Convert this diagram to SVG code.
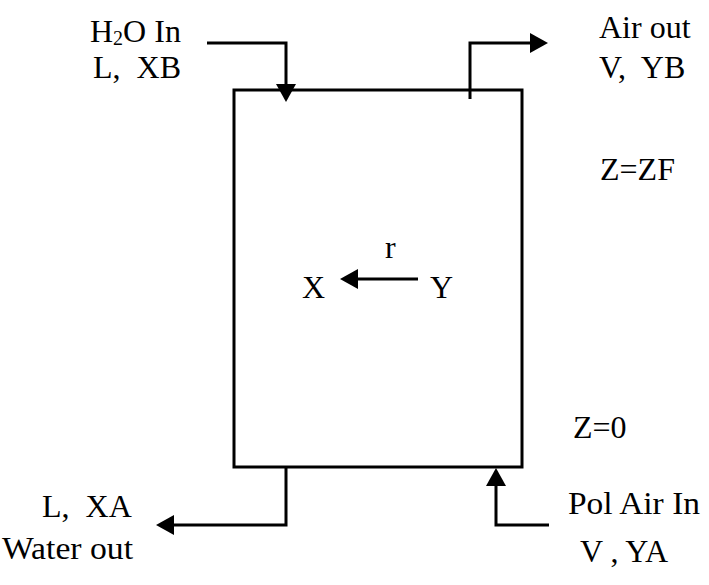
<svg xmlns="http://www.w3.org/2000/svg" width="709" height="585" viewBox="0 0 709 585">
<style>
text{font-family:"Liberation Serif","Times New Roman",serif;font-size:32px;fill:#000}
.ln{fill:none;stroke:#000;stroke-width:3;stroke-linejoin:miter}
</style>
<defs>
<marker id="ah" viewBox="0 0 18 20" refX="2" refY="10" markerWidth="18" markerHeight="20" markerUnits="userSpaceOnUse" orient="auto">
<path d="M0,0 L18,10 L0,20 Z" fill="#000"/>
</marker>
</defs>
<rect width="709" height="585" fill="#fff"/>
<g id="column">
<rect class="ln" x="234" y="90" width="288" height="377"/>
</g>
<g id="connectors">
<path class="ln" d="M207,43 H286 V86" marker-end="url(#ah)"/>
<path class="ln" d="M470,99 V43 H532" marker-end="url(#ah)"/>
<path class="ln" d="M418,279 H356" marker-end="url(#ah)"/>
<path class="ln" d="M286,468 V525 H172" marker-end="url(#ah)"/>
<path class="ln" d="M549,525 H496 V484" marker-end="url(#ah)"/>
</g>
<g id="water-in">
<text x="90" y="42">H<tspan font-size="20" dy="3">2</tspan><tspan dy="-3">O In</tspan></text>
<text x="93" y="78" xml:space="preserve">L,  XB</text>
</g>
<g id="air-out">
<text x="599" y="38">Air out</text>
<text x="599" y="78" xml:space="preserve">V,  YB</text>
</g>
<g id="z-top"><text x="600" y="180">Z=ZF</text></g>
<g id="z-bottom"><text x="573" y="438">Z=0</text></g>
<g id="transfer">
<text x="385" y="258">r</text>
<text x="302" y="298">X</text>
<text x="430" y="298">Y</text>
</g>
<g id="water-out">
<text x="42" y="517" xml:space="preserve">L,  XA</text>
<text x="2" y="559" textLength="131" lengthAdjust="spacingAndGlyphs">Water out</text>
</g>
<g id="air-in">
<text x="568" y="514" textLength="132" lengthAdjust="spacingAndGlyphs">Pol Air In</text>
<text x="580" y="562" xml:space="preserve">V , YA</text>
</g>
</svg>
